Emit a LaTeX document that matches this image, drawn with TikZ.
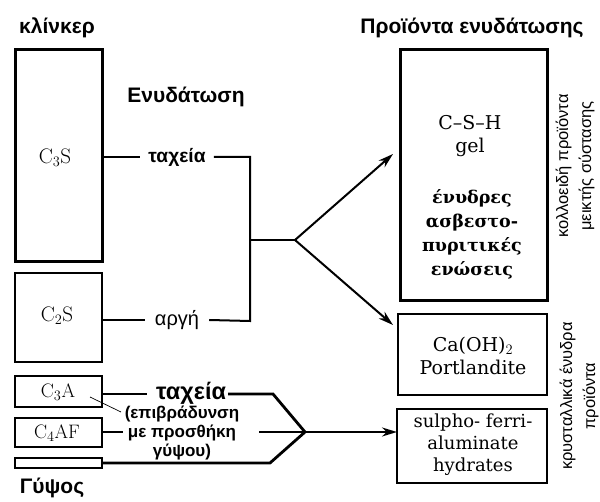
\documentclass[tikz,border=0pt]{standalone}
\usepackage{fontspec}
\usetikzlibrary{arrows.meta}
\newfontfamily\gsans{Liberation Sans}
\newfontfamily\rserif{DejaVu Serif}
\begin{document}
\begin{tikzpicture}[x=1pt,y=-1pt,
  ebox/.style={draw, line width=1.6pt, inner sep=0pt, outer sep=0pt},
  thickbox/.style={ebox, line width=3pt},
  lbltxt/.style={font=\gsans\bfseries\fontsize{19.2}{22}\selectfont, inner sep=8pt},
  headlbl/.style={font=\gsans\bfseries\fontsize{21}{24}\selectfont, inner sep=0pt},
  parlbl/.style={font=\gsans\bfseries\fontsize{17}{19}\selectfont, align=center, inner sep=2pt},
  rotlbl/.style={font=\gsans\fontsize{16.5}{23}\selectfont, align=center, rotate=90, inner sep=0pt},
  cmlbl/.style={font=\fontsize{21}{24}\selectfont, inner sep=0pt},
  cmsmall/.style={font=\fontsize{19.5}{22}\selectfont, inner sep=0pt},
  rslbl/.style={font=\rserif\fontsize{19}{23}\selectfont, align=center, inner sep=0pt},
  rsglbl/.style={font=\rserif\bfseries\fontsize{17.5}{24}\selectfont, align=center, inner sep=0pt},
  conn/.style={line width=2pt},
  conntwo/.style={line width=2.8pt},
  arrline/.style={line width=2pt, -{Stealth[length=15pt,width=9pt]}}]
\useasboundingbox (0,0) rectangle (600,502);
% headings
\node[headlbl] (hk) at (57,28) {κλίνκερ};
\node[headlbl] (hp) at (472,28) {Προϊόντα ενυδάτωσης};
\node[headlbl] (he) at (186,97) {Ενυδάτωση};
\node[headlbl] (hg) at (52,488) {Γύψος};
% clinker boxes
\node[thickbox, minimum width=87pt, minimum height=212pt] (c3s) at (58.5,156) {};
\node[cmlbl] (l3s) at (55,158) {C$_3$S};
\node[ebox, minimum width=87pt, minimum height=89pt] (c2s) at (58.5,317.5) {};
\node[cmlbl] (l2s) at (57,316) {C$_2$S};
\node[ebox, minimum width=87pt, minimum height=31pt] (c3a) at (58.5,391.5) {};
\node[cmsmall] (l3a) at (58,392) {C$_3$A};
\node[ebox, minimum width=87pt, minimum height=29pt] (c4af) at (58.5,432.5) {};
\node[cmsmall] (l4af) at (57,433) {C$_4$AF};
\node[ebox, minimum width=87pt, minimum height=10pt] (gyp) at (58.5,463) {};
% product boxes
\node[thickbox, minimum width=147pt, minimum height=251pt] (csh) at (473.5,175.5) {};
\node[rslbl] (lcsh) at (470,123) {C–S–H};
\node[rslbl] (lgel) at (470,147) {gel};
\node[rsglbl] (lgr) at (472,234) {ένυδρες\\ασβεστο-\\πυριτικές\\ενώσεις};
\node[ebox, minimum width=149pt, minimum height=81pt] (caoh) at (472.5,354.5) {};
\node[rslbl] (lcaoh) at (473,356) {Ca(OH)$_2$\\Portlandite};
\node[ebox, minimum width=150pt, minimum height=74pt] (sulf) at (472,446) {};
\node[rslbl, font=\rserif\fontsize{18}{22}\selectfont] (lsulf) at (473,445) {sulpho- ferri-\\aluminate\\hydrates};
% side labels
\node[rotlbl] (r1) at (575,166) {κολλοειδή προϊόντα\\μεικτής σύστασης};
\node[rotlbl] (r2) at (579,396) {κρυσταλλικά ένυδρα\\προϊόντα};
% silicate branch
\node[lbltxt] (t1) at (177,157) {ταχεία};
\node[lbltxt, font=\gsans\fontsize{20}{23}\selectfont, inner sep=10pt] (t2) at (177,320) {αργή};
\coordinate (k1) at (250,157);
\coordinate (k2) at (250,321);
\coordinate (jm) at (250,240);
\coordinate (jr) at (295,240);
\coordinate (a1) at (393,154);
\coordinate (a2) at (393,325);
\draw[conn] (c3s.east |- t1) -- (t1.west);
\draw[conn] (t1.east) -- (k1) -- (k2) -- (t2.east);
\draw[conn] (c2s.east |- t2) -- (t2.west);
\draw[conn] (jm) -- (jr);
\draw[arrline] (jr) -- (a1);
\draw[arrline] (jr) -- (a2);
% aluminate branch
\node[lbltxt, font=\gsans\bfseries\fontsize{23.5}{26}\selectfont, inner sep=2pt] (t3) at (191,393) {ταχεία};
\node[parlbl] (t4) at (182,433) {(επιβράδυνση\\με προσθήκη\\γύψου)};
\coordinate (b1) at (273,394);
\coordinate (b2) at (305,432);
\coordinate (b3) at (270,463);
\coordinate (b4) at (259,432);
\coordinate (p1) at (90,397);
\coordinate (p2) at (121,412);
\draw[conntwo] (c3a.east |- b1) -- ([xshift=-7pt]t3.west |- b1);
\draw[conntwo] (t3.east |- b1) -- (b1) -- (b2);
\draw[conntwo] (gyp.east) -- (b3) -- (b2);
\draw[conn] (c4af.east |- b2) -- (t4.west |- b2);
\draw[arrline] (b4) -- (sulf.west |- b2);
\draw[line width=0.7pt] (p1) -- (p2);
\end{tikzpicture}
\end{document}
